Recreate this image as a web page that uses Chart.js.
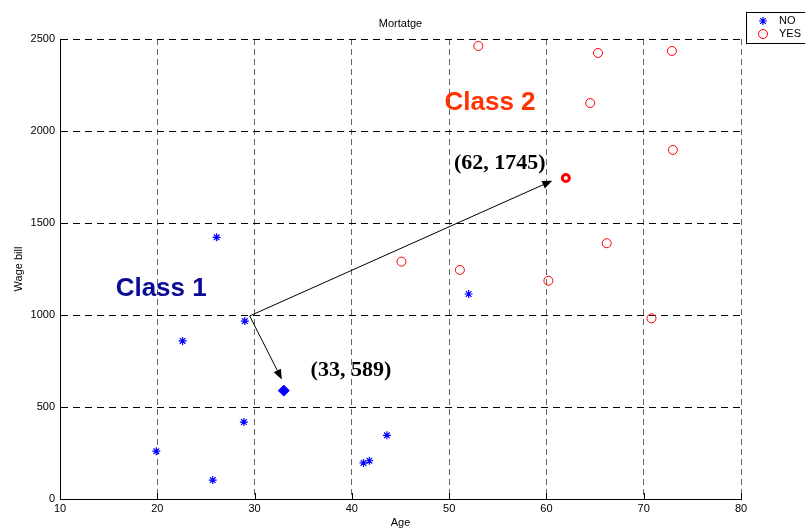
<!DOCTYPE html>
<html>
<head>
<meta charset="utf-8">
<script src="https://cdn.jsdelivr.net/npm/chart.js@4/dist/chart.umd.min.js"></script>
<style>
  html, body { margin: 0; padding: 0; background: #fff; }
  #wrap { width: 805px; height: 532px; }
</style>
</head>
<body>
<div id="wrap"><canvas id="scatterChart" width="805" height="532"></canvas></div>
<script>
// data
const noAge = [19.9, 25.7, 22.6, 26.1, 29.0, 28.9, 41.2, 41.8, 43.6, 52.0];
const noWage = [260, 103, 859, 1422, 967, 418, 196, 208, 346, 1114];
const yesAge = [53.0, 65.3, 72.9, 64.5, 73.0, 45.1, 51.1, 60.2, 66.2, 70.8];
const yesWage = [2462, 2424, 2435, 2152, 1897, 1290, 1245, 1186, 1390, 982];
const class1Point = [33, 589];
const class2Point = [62, 1745];
const xTicks = [10, 20, 30, 40, 50, 60, 70, 80];
const yTicks = [0, 500, 1000, 1500, 2000, 2500];
const arrowFrom = [[29.5, 995], [29.5, 995]];
const arrowTo = [[60.6, 1730], [32.8, 650]];

const notes = [
    { text: 'Class 2', x: 54.2, y: 2152, font: 'bold 26px "Liberation Sans", Arial', color: '#ff3300' },
    { text: 'Class 1', x: 20.4, y: 1141, font: 'bold 26px "Liberation Sans", Arial', color: '#0a0a96' },
    { text: '(62, 1745)', x: 55.2, y: 1826, font: 'bold 22px "Liberation Serif", "Times New Roman"', color: '#000' },
    { text: '(33, 589)', x: 39.9, y: 701, font: 'bold 22px "Liberation Serif", "Times New Roman"', color: '#000' }
];

function pairs(xs, ys) {
    return xs.map((v, i) => ({ x: v, y: ys[i] }));
}

const tickFont = { family: '"Liberation Sans", Arial', size: 11 };

const overlay = {
    id: 'overlay',
    afterDatasetsDraw(chart) {
        const { ctx, chartArea: a, scales: { x, y } } = chart;
        ctx.save();

        // MATLAB style ticks pointing inward
        ctx.strokeStyle = '#000';
        ctx.lineWidth = 1;
        ctx.setLineDash([]);
        x.ticks.forEach(t => {
            const px = Math.round(x.getPixelForValue(t.value)) + 0.5;
            ctx.beginPath();
            ctx.moveTo(px, a.bottom);
            ctx.lineTo(px, a.bottom - 6);
            ctx.stroke();
        });
        y.ticks.forEach(t => {
            const py = Math.round(y.getPixelForValue(t.value)) + 0.5;
            ctx.beginPath();
            ctx.moveTo(a.left, py);
            ctx.lineTo(a.left + 6, py);
            ctx.stroke();
        });

        // arrows
        ctx.fillStyle = '#000';
        arrowFrom.forEach((p, i) => {
            const x0 = x.getPixelForValue(p[0]), y0 = y.getPixelForValue(p[1]);
            const x1 = x.getPixelForValue(arrowTo[i][0]), y1 = y.getPixelForValue(arrowTo[i][1]);
            const ang = Math.atan2(y1 - y0, x1 - x0);
            const len = 10, half = 4;
            const bx = x1 - len * Math.cos(ang), by = y1 - len * Math.sin(ang);
            ctx.beginPath();
            ctx.moveTo(x0, y0);
            ctx.lineTo(bx, by);
            ctx.stroke();
            ctx.beginPath();
            ctx.moveTo(x1, y1);
            ctx.lineTo(bx + half * Math.sin(ang), by - half * Math.cos(ang));
            ctx.lineTo(bx - half * Math.sin(ang), by + half * Math.cos(ang));
            ctx.closePath();
            ctx.fill();
        });

        // text notes
        ctx.textAlign = 'center';
        ctx.textBaseline = 'middle';
        notes.forEach(n => {
            ctx.font = n.font;
            ctx.fillStyle = n.color;
            ctx.fillText(n.text, x.getPixelForValue(n.x), y.getPixelForValue(n.y));
        });

        // title
        ctx.font = '11px "Liberation Sans", Arial';
        ctx.fillStyle = '#000';
        ctx.fillText('Mortatge', (a.left + a.right) / 2, 24);

        // legend box
        ctx.fillStyle = '#fff';
        ctx.fillRect(746.5, 12.5, 70, 31);
        ctx.strokeStyle = '#000';
        ctx.strokeRect(746.5, 12.5, 70, 31);
        chart.data.datasets.slice(0, 2).forEach((ds, i) => {
            const ly = 21 + i * 13;
            ctx.strokeStyle = ds.borderColor;
            ctx.fillStyle = ds.backgroundColor;
            ctx.lineWidth = ds.borderWidth;
            Chart.helpers.drawPoint(ctx, {
                pointStyle: ds.pointStyle, radius: ds.pointRadius,
                borderWidth: ds.borderWidth, rotation: 0
            }, 763, ly);
            ctx.fillStyle = '#000';
            ctx.textAlign = 'left';
            ctx.font = '11px "Liberation Sans", Arial';
            ctx.fillText(ds.label, 779, ly);
        });

        ctx.restore();
    }
};

const ctx = document.getElementById('scatterChart').getContext('2d');
new Chart(ctx, {
    type: 'scatter',
    data: {
        datasets: [{
            label: 'NO',
            data: pairs(noAge, noWage),
            pointStyle: 'star',
            pointRadius: 4,
            borderColor: '#0000ff',
            backgroundColor: '#0000ff',
            borderWidth: 1.2
        }, {
            label: 'YES',
            data: pairs(yesAge, yesWage),
            pointStyle: 'circle',
            pointRadius: 4.5,
            borderColor: '#ff0000',
            backgroundColor: 'rgba(255,255,255,0)',
            borderWidth: 1
        }, {
            label: 'Class 1 centre',
            data: [{ x: class1Point[0], y: class1Point[1] }],
            pointStyle: 'rectRot',
            pointRadius: 5.5,
            borderColor: '#0000ff',
            backgroundColor: '#0000ff',
            borderWidth: 1
        }, {
            label: 'Class 2 centre',
            data: [{ x: class2Point[0], y: class2Point[1] }],
            pointStyle: 'circle',
            pointRadius: 3.5,
            borderColor: '#ff0000',
            backgroundColor: '#ffffff',
            borderWidth: 3
        }]
    },
    options: {
        responsive: false,
        animation: false,
        layout: { padding: { top: 39, right: 64, left: 0, bottom: 0 } },
        plugins: {
            legend: { display: false },
            title: { display: false },
            tooltip: { enabled: false }
        },
        scales: {
            x: {
                type: 'linear',
                min: 10,
                max: 80,
                afterBuildTicks: s => { s.ticks = xTicks.map(v => ({ value: v })); },
                afterFit: s => { s.height = 33; },
                ticks: { color: '#000', font: tickFont, padding: 3, maxRotation: 0, callback: v => String(v) },
                grid: { color: '#666', drawTicks: false, lineWidth: 1 },
                border: { color: '#000', width: 1, dash: [6, 4] },
                title: { display: true, text: 'Age', color: '#000', font: tickFont, padding: { top: 0, bottom: 2 } }
            },
            y: {
                type: 'linear',
                min: 0,
                max: 2500,
                afterBuildTicks: s => { s.ticks = yTicks.map(v => ({ value: v })); },
                afterFit: s => { s.width = 60; },
                ticks: { color: '#000', font: tickFont, padding: 5, callback: v => String(v) },
                grid: { color: '#000', drawTicks: false, lineWidth: 1 },
                border: { color: '#000', width: 1, dash: [7, 5] },
                title: { display: true, text: 'Wage bill', color: '#000', font: tickFont, padding: { top: 12, bottom: 0 } }
            }
        }
    },
    plugins: [overlay]
});
</script>
</body>
</html>
